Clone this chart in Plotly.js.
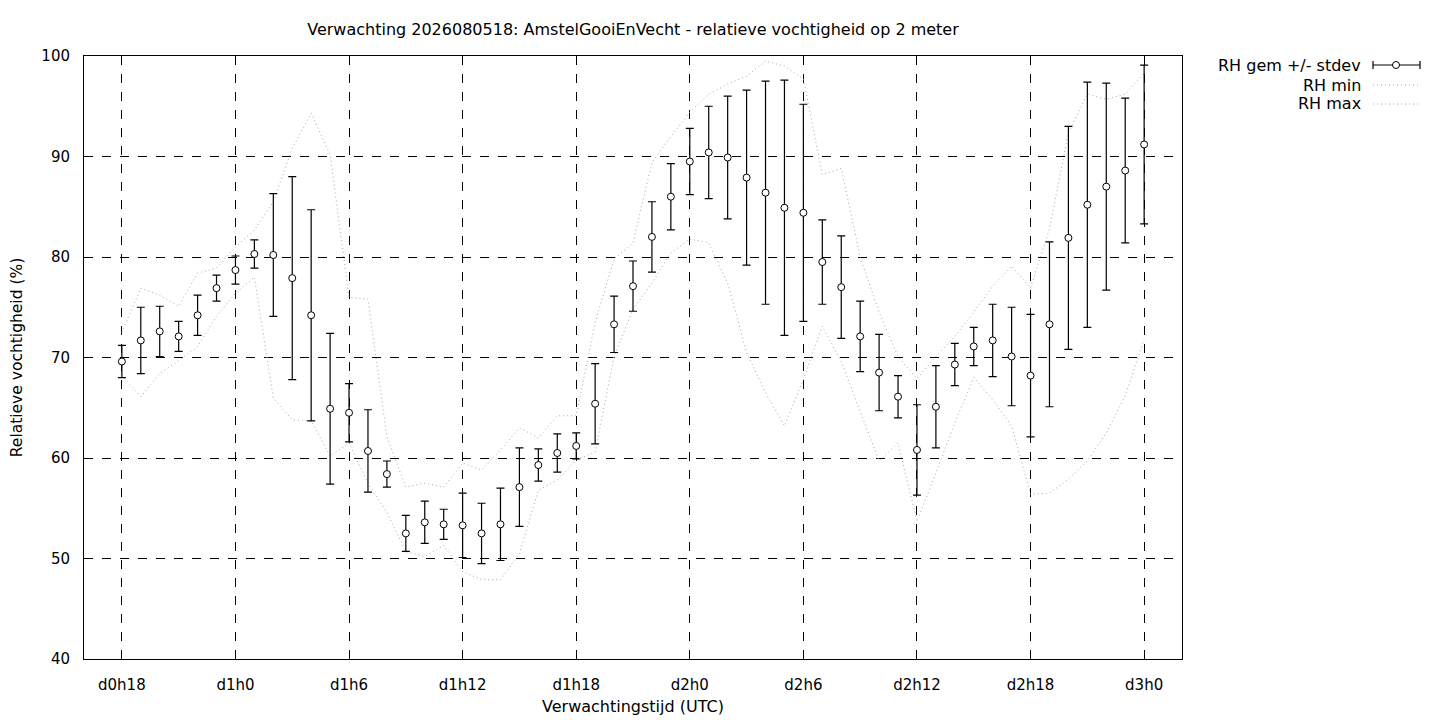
<!DOCTYPE html>
<html>
<head>
<meta charset="utf-8">
<script src="https://cdn.plot.ly/plotly-3.0.1.min.js"></script>
<style>html,body{margin:0;padding:0;background:#fff;}#chart{width:1440px;height:720px;}</style>
</head>
<body>
<div id="chart"></div>
<script>
const hours = [18,19,20,21,22,23,24,25,26,27,28,29,30,31,32,33,34,35,36,37,38,39,40,41,42,43,44,45,46,47,48,49,50,51,52,53,54,55,56,57,58,59,60,61,62,63,64,65,66,67,68,69,70,71,72];
const rhMean = [69.6,71.7,72.6,72.1,74.2,76.9,78.7,80.3,80.2,77.9,74.2,64.9,64.5,60.7,58.4,52.5,53.6,53.4,53.3,52.5,53.4,57.1,59.3,60.5,61.2,65.4,73.3,77.1,82.0,86.0,89.5,90.4,89.9,87.9,86.4,84.9,84.4,79.5,77.0,72.1,68.5,66.1,60.8,65.1,69.3,71.1,71.7,70.1,68.2,73.3,81.9,85.2,87.0,88.6,91.2];
const rhStdev = [1.6,3.3,2.5,1.5,2.0,1.3,1.4,1.4,6.1,10.1,10.5,7.5,2.9,4.1,1.3,1.8,2.1,1.5,3.2,3.0,3.6,3.9,1.6,1.9,1.3,4.0,2.8,2.5,3.5,3.3,3.3,4.6,6.1,8.7,11.1,12.7,10.8,4.2,5.1,3.5,3.8,2.1,4.5,4.1,2.1,1.9,3.6,4.9,6.1,8.2,11.1,12.2,10.3,7.2,7.9];
const rhMin = [68.2,66.1,68.4,69.7,71.1,74.1,76.4,78.0,66.0,63.8,63.7,60.2,61.5,57.5,54.6,50.7,50.2,51.3,48.7,47.9,47.9,50.5,56.8,57.8,59.8,60.6,70.1,74.8,77.4,80.4,81.8,81.4,77.4,70.5,66.5,63.2,67.8,73.1,69.6,64.7,59.7,61.5,53.7,58.5,63.5,68.0,65.8,63.2,56.4,56.5,57.9,59.7,62.5,66.2,71.8];
const rhMax = [72.5,76.9,76.2,75.1,78.4,78.9,81.0,82.7,85.5,90.8,94.3,90.2,76.0,75.8,62.1,57.1,57.5,57.1,59.5,58.8,60.8,63.0,62.0,64.2,64.2,73.5,79.8,81.4,89.4,92.0,94.4,96.2,97.2,98.0,99.5,99.0,97.7,88.2,88.8,80.0,74.5,70.1,67.9,70.1,72.1,74.5,77.1,79.1,76.9,82.8,92.4,96.2,95.7,96.2,98.3];
const tickVals = [18,24,30,36,42,48,54,60,66,72];
const tickText = ['d0h18','d1h0','d1h6','d1h12','d1h18','d2h0','d2h6','d2h12','d2h18','d3h0'];
const yTickVals = [40,50,60,70,80,90,100];
const legendNames = ['RH gem +/- stdev','RH min','RH max'];
const titleText = 'Verwachting 2026080518: AmstelGooiEnVecht - relatieve vochtigheid op 2 meter';

const FONT = 'DejaVu Sans, sans-serif';
const dotColor = '#a8a8a8';
const dotDash = '1px,3px';

const traces = [
  {x: hours, y: rhMin, type: 'scatter', mode: 'lines', name: legendNames[1],
   line: {color: dotColor, width: 1, dash: dotDash}, hoverinfo: 'skip'},
  {x: hours, y: rhMax, type: 'scatter', mode: 'lines', name: legendNames[2],
   line: {color: dotColor, width: 1, dash: dotDash}, hoverinfo: 'skip'},
  {x: hours, y: rhMean, type: 'scatter', mode: 'markers', name: legendNames[0],
   marker: {symbol: 'circle', size: 7, color: '#ffffff', line: {color: '#000', width: 1}},
   error_y: {type: 'data', array: rhStdev, visible: true, color: '#000', thickness: 1.2, width: 4}}
];

// legend drawn gnuplot-style (text right, sample to the right of it)
const L = 84, R = 1182, T = 56, B = 659;
const px = v => (v - L) / (R - L);
const py = v => (B - v) / (B - T);
const rows = [65, 85, 104];
const annotations = legendNames.map((n, i) => ({
  xref: 'paper', yref: 'paper', x: px(1363), y: py(rows[i]), xanchor: 'right', yanchor: 'middle',
  text: n, showarrow: false, font: {family: FONT, size: 16, color: '#000'}
}));
const shapes = [
  {type: 'line', xref: 'paper', yref: 'paper', x0: px(1373), x1: px(1420), y0: py(rows[0]), y1: py(rows[0]), line: {color: '#000', width: 1.2}},
  {type: 'line', xref: 'paper', yref: 'paper', x0: px(1373), x1: px(1373), y0: py(rows[0] - 4), y1: py(rows[0] + 4), line: {color: '#000', width: 1.2}},
  {type: 'line', xref: 'paper', yref: 'paper', x0: px(1420), x1: px(1420), y0: py(rows[0] - 4), y1: py(rows[0] + 4), line: {color: '#000', width: 1.2}},
  {type: 'circle', xref: 'paper', yref: 'paper', xsizemode: 'pixel', ysizemode: 'pixel', xanchor: px(1396), yanchor: py(rows[0]),
   x0: -3.5, x1: 3.5, y0: -3.5, y1: 3.5, fillcolor: '#fff', line: {color: '#000', width: 1}},
  {type: 'line', xref: 'paper', yref: 'paper', x0: px(1373), x1: px(1420), y0: py(rows[1]), y1: py(rows[1]), line: {color: dotColor, width: 1, dash: dotDash}},
  {type: 'line', xref: 'paper', yref: 'paper', x0: px(1373), x1: px(1420), y0: py(rows[2]), y1: py(rows[2]), line: {color: dotColor, width: 1, dash: dotDash}}
];

const layout = {
  width: 1440, height: 720,
  margin: {l: 84, r: 258, t: 56, b: 61},
  paper_bgcolor: '#fff', plot_bgcolor: '#fff',
  showlegend: false,
  font: {family: FONT, size: 15, color: '#000'},
  title: {text: titleText, font: {family: FONT, size: 16, color: '#000'}, x: px(633), xref: 'paper', xanchor: 'center', y: 1 - 29/720, yanchor: 'middle'},
  xaxis: {
    range: [16, 74], tickvals: tickVals, ticktext: tickText,
    showgrid: true, gridcolor: '#000', gridwidth: 1, griddash: 'dash',
    zeroline: false, showline: true, linecolor: '#000', linewidth: 1, mirror: true,
    ticks: '', ticklabelstandoff: 12,
    tickfont: {family: FONT, size: 15, color: '#000'},
    title: {text: 'Verwachtingstijd (UTC)', font: {family: FONT, size: 16, color: '#000'}, standoff: 7}
  },
  yaxis: {
    range: [40, 100], tickvals: yTickVals,
    showgrid: true, gridcolor: '#000', gridwidth: 1, griddash: 'dash',
    zeroline: false, showline: true, linecolor: '#000', linewidth: 1, mirror: true,
    ticks: '', ticklabelstandoff: 10,
    tickfont: {family: FONT, size: 15, color: '#000'},
    title: {text: 'Relatieve vochtigheid (%)', font: {family: FONT, size: 15.5, color: '#000'}, standoff: 14}
  },
  annotations: annotations,
  shapes: shapes
};

Plotly.newPlot('chart', traces, layout, {displayModeBar: false, staticPlot: true});
</script>
</body>
</html>
